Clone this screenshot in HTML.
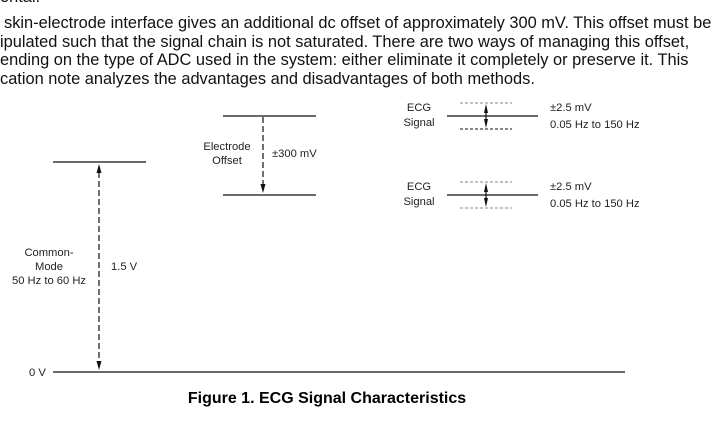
<!DOCTYPE html>
<html><head><style>
body{margin:0;width:715px;height:423px;background:#fff;overflow:hidden;position:relative;font-family:"Liberation Sans",Arial,sans-serif}
.p{position:absolute;left:4px;font-size:16.4px;color:#111;white-space:nowrap;line-height:18.5px}
</style></head><body>
<div class="p" style="top:-12px;left:0">ental.</div>
<div class="p" style="top:14px">skin-electrode interface gives an additional dc offset of approximately 300 mV. This offset must be</div>
<div class="p" style="top:32.5px;left:0">ipulated such that the signal chain is not saturated. There are two ways of managing this offset,</div>
<div class="p" style="top:51px;left:0">ending on the type of ADC used in the system: either eliminate it completely or preserve it. This</div>
<div class="p" style="top:69.5px;left:0">cation note analyzes the advantages and disadvantages of both methods.</div>
<svg width="715" height="423" style="position:absolute;left:0;top:0" font-family="Liberation Sans,Arial,sans-serif" font-size="11.2" fill="#222">
<g stroke="#111" stroke-width="1.2">
<line x1="53" y1="162" x2="146" y2="162"/>
<line x1="53" y1="372" x2="625" y2="372"/>
<line x1="223" y1="116" x2="316" y2="116"/>
<line x1="223" y1="195" x2="316" y2="195"/>
<line x1="447" y1="116" x2="538" y2="116"/>
<line x1="447" y1="195" x2="538" y2="195"/>
<line x1="99" y1="172" x2="99" y2="362" stroke-dasharray="6,3"/>
<line x1="263" y1="117" x2="263" y2="186" stroke-dasharray="6,3"/>
<line x1="486" y1="108" x2="486" y2="124"/>
<line x1="486" y1="187" x2="486" y2="203"/>
</g>
<g stroke="#888" stroke-width="1" stroke-dasharray="3,2">
<line x1="460" y1="103" x2="512" y2="103"/><line x1="460" y1="129" x2="512" y2="129" stroke="#111"/>
<line x1="460" y1="182" x2="512" y2="182"/><line x1="460" y1="208" x2="512" y2="208"/>
</g>
<g fill="#111">
<polygon points="96.5,173 99,164 101.5,173"/>
<polygon points="96.5,361 99,370 101.5,361"/>
<polygon points="260.5,184 263,193 265.5,184"/>
<polygon points="484,113 486,104 488,113"/>
<polygon points="484,119 486,128 488,119"/>
<polygon points="484,192 486,183 488,192"/>
<polygon points="484,198 486,207 488,198"/>
</g>
<text x="419" y="111" text-anchor="middle">ECG</text><text x="419" y="126" text-anchor="middle">Signal</text>
<text x="419" y="190" text-anchor="middle">ECG</text><text x="419" y="205" text-anchor="middle">Signal</text>
<text x="550" y="111">±2.5 mV</text><text x="550" y="128">0.05 Hz to 150 Hz</text>
<text x="550" y="190">±2.5 mV</text><text x="550" y="207">0.05 Hz to 150 Hz</text>
<text x="227" y="150" text-anchor="middle">Electrode</text><text x="227" y="164" text-anchor="middle">Offset</text>
<text x="272" y="157">±300 mV</text>
<text x="49" y="256" text-anchor="middle">Common-</text><text x="49" y="270" text-anchor="middle">Mode</text><text x="49" y="284" text-anchor="middle">50 Hz to 60 Hz</text>
<text x="111" y="270">1.5 V</text>
<text x="29" y="376">0 V</text>
<text x="327" y="403" text-anchor="middle" font-size="16" font-weight="bold" fill="#000">Figure 1. ECG Signal Characteristics</text>
</svg>
</body></html>
